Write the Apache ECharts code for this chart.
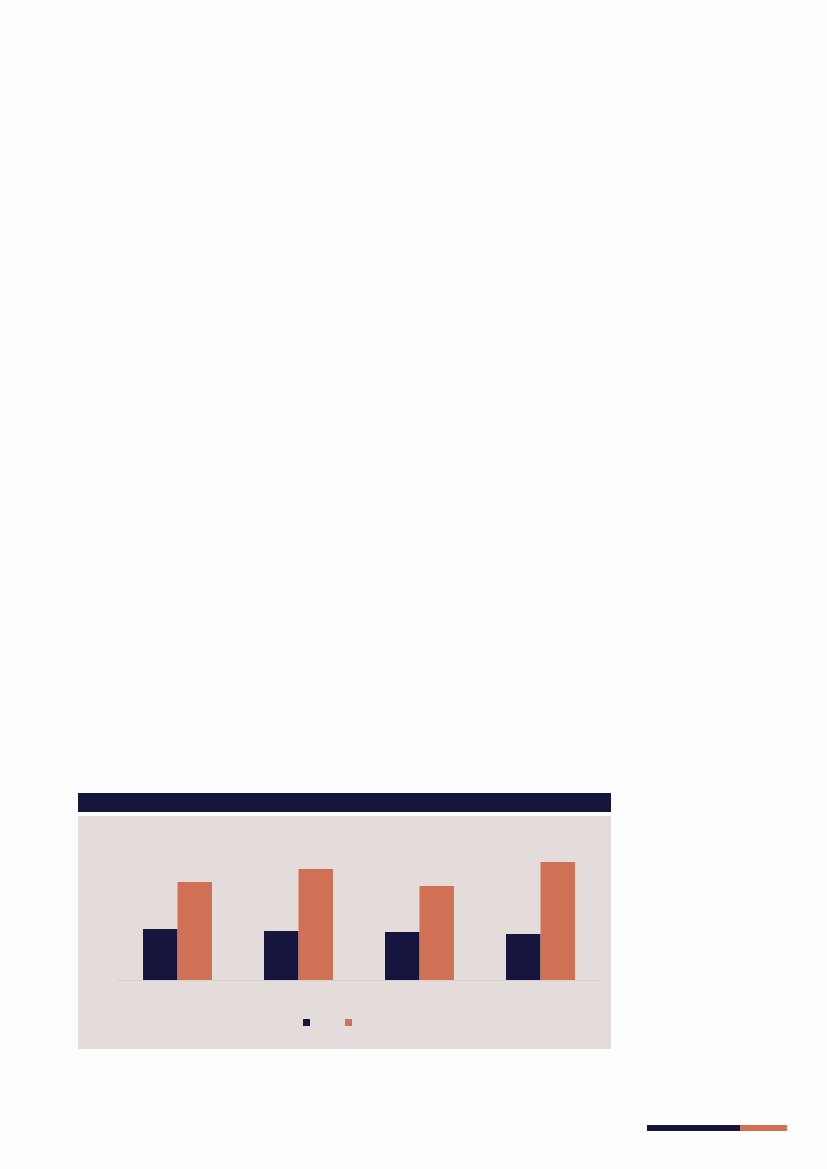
<!DOCTYPE html>
<html>
<head>
<meta charset="utf-8">
<script src="https://cdn.jsdelivr.net/npm/echarts@6/dist/echarts.min.js"></script>
<style>
html,body{margin:0;padding:0;background:#fdfdfd;}
#c{width:827px;height:1169px;}
</style>
</head>
<body>
<div id="c"></div>
<script>
var categories = ['1', '2', '3', '4'];
var seriesNames = ['Series 1', 'Series 2'];
var seriesA = [51, 49, 48, 46];
var seriesB = [98, 111, 94, 118];

var NAVY = '#16153d';
var ORANGE = '#d07055';
var PANEL = '#e4dcdb';

var chart = echarts.init(document.getElementById('c'), null, {renderer: 'canvas'});
chart.setOption({
  backgroundColor: '#fdfdfd',
  animation: false,
  graphic: [
    {type: 'rect', z: -10, shape: {x: 78, y: 793, width: 533, height: 19}, style: {fill: NAVY}},
    {type: 'rect', z: -10, shape: {x: 78, y: 816, width: 533, height: 233}, style: {fill: PANEL}},
    {type: 'rect', z: -10, shape: {x: 647, y: 1125, width: 93, height: 6}, style: {fill: NAVY}},
    {type: 'rect', z: -10, shape: {x: 740, y: 1125, width: 47, height: 6}, style: {fill: ORANGE}}
  ],
  grid: {left: 117, right: 226, top: 830, bottom: 189, containLabel: false},
  legend: {
    left: 303, top: 1019, padding: 0,
    itemWidth: 7, itemHeight: 7, itemGap: 35,
    icon: 'rect',
    formatter: function () { return ''; },
    data: seriesNames
  },
  xAxis: {
    type: 'category',
    data: categories,
    axisLine: {show: true, lineStyle: {color: '#d8d0ce', width: 1}},
    axisTick: {show: false},
    axisLabel: {show: false}
  },
  yAxis: {
    type: 'value',
    min: 0, max: 150,
    axisLine: {show: false},
    axisTick: {show: false},
    axisLabel: {show: false},
    splitLine: {show: false}
  },
  series: [
    {name: seriesNames[0], type: 'bar', data: seriesA, itemStyle: {color: NAVY}, barGap: '0%', barCategoryGap: '43%'},
    {name: seriesNames[1], type: 'bar', data: seriesB, itemStyle: {color: ORANGE}, barGap: '0%', barCategoryGap: '43%'}
  ]
});
</script>
</body>
</html>
